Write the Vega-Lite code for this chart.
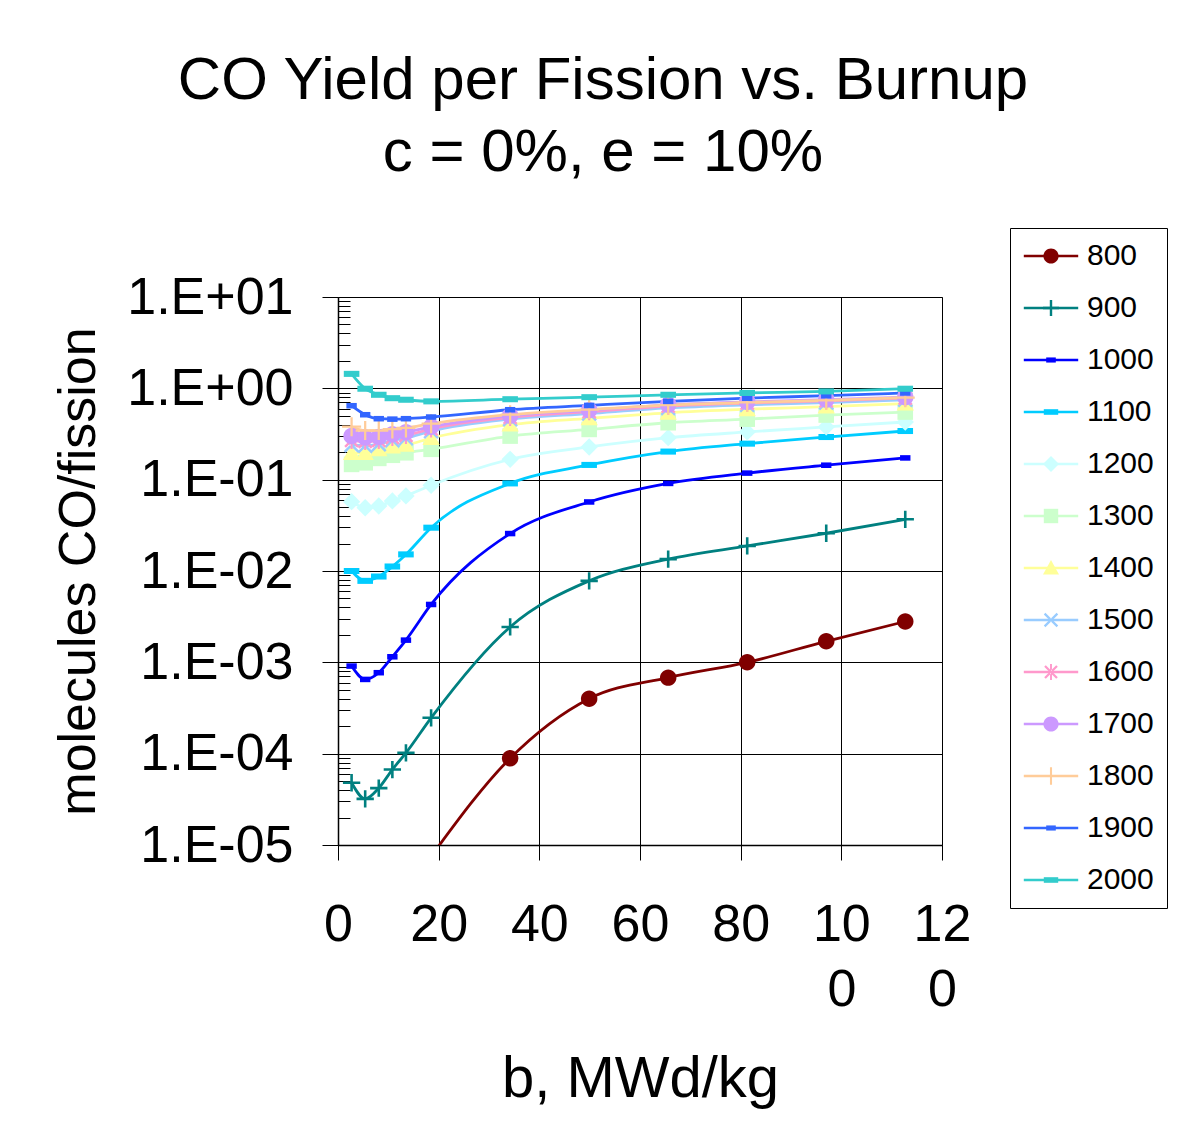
{
  "$schema": "https://vega.github.io/schema/vega-lite/v6.json",
  "width": 604,
  "height": 548,
  "autosize": {"type": "none"},
  "padding": {"left": 338, "top": 297, "right": 250, "bottom": 296},
  "background": "white",
  "config": {
    "font": "Liberation Sans",
    "view": {"stroke": "#808080", "strokeWidth": 1},
    "legend": {"strokeWidth": 1}
  },
  "title": {
    "text": ["CO Yield per Fission vs. Burnup", "c = 0%, e = 10%"],
    "font": "Liberation Sans",
    "fontSize": 60,
    "fontWeight": "normal",
    "color": "#000000",
    "lineHeight": 72,
    "anchor": "middle",
    "dx": -37,
    "offset": 44
  },
  "data": {
    "values": [
      {"temp": "800", "burnup": 18.5, "yield": 0.0000075},
      {"temp": "800", "burnup": 34.2, "yield": 0.000089},
      {"temp": "800", "burnup": 49.9, "yield": 0.0004},
      {"temp": "800", "burnup": 65.6, "yield": 0.00068},
      {"temp": "800", "burnup": 81.3, "yield": 0.001},
      {"temp": "800", "burnup": 97.0, "yield": 0.0017},
      {"temp": "800", "burnup": 112.7, "yield": 0.0028},

      {"temp": "900", "burnup": 2.7, "yield": 0.000048},
      {"temp": "900", "burnup": 5.4, "yield": 0.000032},
      {"temp": "900", "burnup": 8.1, "yield": 0.000042},
      {"temp": "900", "burnup": 10.8, "yield": 0.000067},
      {"temp": "900", "burnup": 13.5, "yield": 0.000102},
      {"temp": "900", "burnup": 18.5, "yield": 0.000247},
      {"temp": "900", "burnup": 34.2, "yield": 0.00244},
      {"temp": "900", "burnup": 49.9, "yield": 0.0078},
      {"temp": "900", "burnup": 65.6, "yield": 0.0135},
      {"temp": "900", "burnup": 81.3, "yield": 0.0188},
      {"temp": "900", "burnup": 97.0, "yield": 0.0259},
      {"temp": "900", "burnup": 112.7, "yield": 0.0368},

      {"temp": "1000", "burnup": 2.7, "yield": 0.00091},
      {"temp": "1000", "burnup": 5.4, "yield": 0.00065},
      {"temp": "1000", "burnup": 8.1, "yield": 0.00077},
      {"temp": "1000", "burnup": 10.8, "yield": 0.00115},
      {"temp": "1000", "burnup": 13.5, "yield": 0.00175},
      {"temp": "1000", "burnup": 18.5, "yield": 0.0043},
      {"temp": "1000", "burnup": 34.2, "yield": 0.0257},
      {"temp": "1000", "burnup": 49.9, "yield": 0.057},
      {"temp": "1000", "burnup": 65.6, "yield": 0.091},
      {"temp": "1000", "burnup": 81.3, "yield": 0.118},
      {"temp": "1000", "burnup": 97.0, "yield": 0.144},
      {"temp": "1000", "burnup": 112.7, "yield": 0.173},

      {"temp": "1100", "burnup": 2.7, "yield": 0.01},
      {"temp": "1100", "burnup": 5.4, "yield": 0.0078},
      {"temp": "1100", "burnup": 8.1, "yield": 0.0087},
      {"temp": "1100", "burnup": 10.8, "yield": 0.0112},
      {"temp": "1100", "burnup": 13.5, "yield": 0.0152},
      {"temp": "1100", "burnup": 18.5, "yield": 0.0298},
      {"temp": "1100", "burnup": 34.2, "yield": 0.091},
      {"temp": "1100", "burnup": 49.9, "yield": 0.145},
      {"temp": "1100", "burnup": 65.6, "yield": 0.203},
      {"temp": "1100", "burnup": 81.3, "yield": 0.248},
      {"temp": "1100", "burnup": 97.0, "yield": 0.293},
      {"temp": "1100", "burnup": 112.7, "yield": 0.341},

      {"temp": "1200", "burnup": 2.7, "yield": 0.0574},
      {"temp": "1200", "burnup": 5.4, "yield": 0.0493},
      {"temp": "1200", "burnup": 8.1, "yield": 0.0515},
      {"temp": "1200", "burnup": 10.8, "yield": 0.0585},
      {"temp": "1200", "burnup": 13.5, "yield": 0.0664},
      {"temp": "1200", "burnup": 18.5, "yield": 0.0869},
      {"temp": "1200", "burnup": 34.2, "yield": 0.167},
      {"temp": "1200", "burnup": 49.9, "yield": 0.228},
      {"temp": "1200", "burnup": 65.6, "yield": 0.288},
      {"temp": "1200", "burnup": 81.3, "yield": 0.333},
      {"temp": "1200", "burnup": 97.0, "yield": 0.378},
      {"temp": "1200", "burnup": 112.7, "yield": 0.428},

      {"temp": "1300", "burnup": 2.7, "yield": 0.147},
      {"temp": "1300", "burnup": 5.4, "yield": 0.153},
      {"temp": "1300", "burnup": 8.1, "yield": 0.171},
      {"temp": "1300", "burnup": 10.8, "yield": 0.185},
      {"temp": "1300", "burnup": 13.5, "yield": 0.197},
      {"temp": "1300", "burnup": 18.5, "yield": 0.215},
      {"temp": "1300", "burnup": 34.2, "yield": 0.30},
      {"temp": "1300", "burnup": 49.9, "yield": 0.355},
      {"temp": "1300", "burnup": 65.6, "yield": 0.42},
      {"temp": "1300", "burnup": 81.3, "yield": 0.46},
      {"temp": "1300", "burnup": 97.0, "yield": 0.51},
      {"temp": "1300", "burnup": 112.7, "yield": 0.55},

      {"temp": "1400", "burnup": 2.7, "yield": 0.195},
      {"temp": "1400", "burnup": 5.4, "yield": 0.195},
      {"temp": "1400", "burnup": 8.1, "yield": 0.215},
      {"temp": "1400", "burnup": 10.8, "yield": 0.23},
      {"temp": "1400", "burnup": 13.5, "yield": 0.24},
      {"temp": "1400", "burnup": 18.5, "yield": 0.285},
      {"temp": "1400", "burnup": 34.2, "yield": 0.40},
      {"temp": "1400", "burnup": 49.9, "yield": 0.47},
      {"temp": "1400", "burnup": 65.6, "yield": 0.54},
      {"temp": "1400", "burnup": 81.3, "yield": 0.59},
      {"temp": "1400", "burnup": 97.0, "yield": 0.63},
      {"temp": "1400", "burnup": 112.7, "yield": 0.68},

      {"temp": "1500", "burnup": 2.7, "yield": 0.24},
      {"temp": "1500", "burnup": 5.4, "yield": 0.235},
      {"temp": "1500", "burnup": 8.1, "yield": 0.245},
      {"temp": "1500", "burnup": 10.8, "yield": 0.27},
      {"temp": "1500", "burnup": 13.5, "yield": 0.285},
      {"temp": "1500", "burnup": 18.5, "yield": 0.34},
      {"temp": "1500", "burnup": 34.2, "yield": 0.46},
      {"temp": "1500", "burnup": 49.9, "yield": 0.53},
      {"temp": "1500", "burnup": 65.6, "yield": 0.61},
      {"temp": "1500", "burnup": 81.3, "yield": 0.66},
      {"temp": "1500", "burnup": 97.0, "yield": 0.70},
      {"temp": "1500", "burnup": 112.7, "yield": 0.75},

      {"temp": "1600", "burnup": 2.7, "yield": 0.27},
      {"temp": "1600", "burnup": 5.4, "yield": 0.262},
      {"temp": "1600", "burnup": 8.1, "yield": 0.27},
      {"temp": "1600", "burnup": 10.8, "yield": 0.29},
      {"temp": "1600", "burnup": 13.5, "yield": 0.305},
      {"temp": "1600", "burnup": 18.5, "yield": 0.36},
      {"temp": "1600", "burnup": 34.2, "yield": 0.48},
      {"temp": "1600", "burnup": 49.9, "yield": 0.555},
      {"temp": "1600", "burnup": 65.6, "yield": 0.64},
      {"temp": "1600", "burnup": 81.3, "yield": 0.69},
      {"temp": "1600", "burnup": 97.0, "yield": 0.73},
      {"temp": "1600", "burnup": 112.7, "yield": 0.78},

      {"temp": "1700", "burnup": 2.7, "yield": 0.30},
      {"temp": "1700", "burnup": 5.4, "yield": 0.29},
      {"temp": "1700", "burnup": 8.1, "yield": 0.293},
      {"temp": "1700", "burnup": 10.8, "yield": 0.315},
      {"temp": "1700", "burnup": 13.5, "yield": 0.33},
      {"temp": "1700", "burnup": 18.5, "yield": 0.38},
      {"temp": "1700", "burnup": 34.2, "yield": 0.50},
      {"temp": "1700", "burnup": 49.9, "yield": 0.575},
      {"temp": "1700", "burnup": 65.6, "yield": 0.66},
      {"temp": "1700", "burnup": 81.3, "yield": 0.71},
      {"temp": "1700", "burnup": 97.0, "yield": 0.75},
      {"temp": "1700", "burnup": 112.7, "yield": 0.80},

      {"temp": "1800", "burnup": 2.7, "yield": 0.38},
      {"temp": "1800", "burnup": 5.4, "yield": 0.345},
      {"temp": "1800", "burnup": 8.1, "yield": 0.345},
      {"temp": "1800", "burnup": 10.8, "yield": 0.358},
      {"temp": "1800", "burnup": 13.5, "yield": 0.368},
      {"temp": "1800", "burnup": 18.5, "yield": 0.41},
      {"temp": "1800", "burnup": 34.2, "yield": 0.515},
      {"temp": "1800", "burnup": 49.9, "yield": 0.585},
      {"temp": "1800", "burnup": 65.6, "yield": 0.655},
      {"temp": "1800", "burnup": 81.3, "yield": 0.70},
      {"temp": "1800", "burnup": 97.0, "yield": 0.74},
      {"temp": "1800", "burnup": 112.7, "yield": 0.79},

      {"temp": "1900", "burnup": 2.7, "yield": 0.645},
      {"temp": "1900", "burnup": 5.4, "yield": 0.514},
      {"temp": "1900", "burnup": 8.1, "yield": 0.465},
      {"temp": "1900", "burnup": 10.8, "yield": 0.46},
      {"temp": "1900", "burnup": 13.5, "yield": 0.465},
      {"temp": "1900", "burnup": 18.5, "yield": 0.485},
      {"temp": "1900", "burnup": 34.2, "yield": 0.583},
      {"temp": "1900", "burnup": 49.9, "yield": 0.65},
      {"temp": "1900", "burnup": 65.6, "yield": 0.72},
      {"temp": "1900", "burnup": 81.3, "yield": 0.78},
      {"temp": "1900", "burnup": 97.0, "yield": 0.83},
      {"temp": "1900", "burnup": 112.7, "yield": 0.89},

      {"temp": "2000", "burnup": 2.7, "yield": 1.44},
      {"temp": "2000", "burnup": 5.4, "yield": 0.99},
      {"temp": "2000", "burnup": 8.1, "yield": 0.85},
      {"temp": "2000", "burnup": 10.8, "yield": 0.78},
      {"temp": "2000", "burnup": 13.5, "yield": 0.75},
      {"temp": "2000", "burnup": 18.5, "yield": 0.72},
      {"temp": "2000", "burnup": 34.2, "yield": 0.76},
      {"temp": "2000", "burnup": 49.9, "yield": 0.80},
      {"temp": "2000", "burnup": 65.6, "yield": 0.85},
      {"temp": "2000", "burnup": 81.3, "yield": 0.89},
      {"temp": "2000", "burnup": 97.0, "yield": 0.925},
      {"temp": "2000", "burnup": 112.7, "yield": 0.99}
    ]
  },
  "encoding": {
    "x": {
      "field": "burnup",
      "type": "quantitative",
      "scale": {"domain": [0, 120], "nice": false, "zero": false},
      "axis": {
        "values": [0, 20, 40, 60, 80, 100, 120],
        "labelExpr": "datum.value >= 100 ? [substring(datum.label, 0, 2), substring(datum.label, 2)] : datum.label",
        "labelFontSize": 52,
        "labelFont": "Liberation Sans",
        "labelColor": "#000000",
        "labelLineHeight": 65,
        "labelPadding": 39,
        "labelFlush": false,
        "labelOverlap": false,
        "tickSize": 15,
        "tickColor": "#000000",
        "tickWidth": 1,
        "domainColor": "#000000",
        "domainWidth": 1.5,
        "grid": true,
        "gridColor": "#000000",
        "gridOpacity": 1,
        "gridWidth": 1,
        "title": "b, MWd/kg",
        "titleFont": "Liberation Sans",
        "titleFontSize": 58,
        "titleFontWeight": "normal",
        "titleColor": "#000000",
        "titlePadding": 35
      }
    },
    "y": {
      "field": "yield",
      "type": "quantitative",
      "scale": {"type": "log", "domain": [0.00001, 10], "nice": false},
      "axis": {
        "values": [0.00001, 0.00002, 0.00003, 0.00004, 0.00005, 0.00006, 0.00007, 0.00008, 0.00009,
                   0.0001, 0.0002, 0.0003, 0.0004, 0.0005, 0.0006, 0.0007, 0.0008, 0.0009,
                   0.001, 0.002, 0.003, 0.004, 0.005, 0.006, 0.007, 0.008, 0.009,
                   0.01, 0.02, 0.03, 0.04, 0.05, 0.06, 0.07, 0.08, 0.09,
                   0.1, 0.2, 0.3, 0.4, 0.5, 0.6, 0.7, 0.8, 0.9,
                   1, 2, 3, 4, 5, 6, 7, 8, 9, 10],
        "labelExpr": "abs(log(datum.value)/LN10 - round(log(datum.value)/LN10)) > 0.001 ? '' : (round(log(datum.value)/LN10) >= 0 ? '1.E+0' + round(log(datum.value)/LN10) : '1.E-0' + (-round(log(datum.value)/LN10)))",
        "labelFontSize": 52,
        "labelFont": "Liberation Sans",
        "labelColor": "#000000",
        "labelPadding": 29,
        "labelFlush": false,
        "labelOverlap": false,
        "tickSize": {"condition": {"test": "abs(log(datum.value)/LN10 - round(log(datum.value)/LN10)) > 0.001", "value": -12}, "value": 16},
        "tickColor": "#000000",
        "tickWidth": 1,
        "domainColor": "#000000",
        "domainWidth": 1.5,
        "grid": true,
        "gridColor": "#000000",
        "gridWidth": 1,
        "gridOpacity": {"condition": {"test": "abs(log(datum.value)/LN10 - round(log(datum.value)/LN10)) > 0.001", "value": 0}, "value": 1},
        "title": "molecules CO/fission",
        "titleFont": "Liberation Sans",
        "titleFontSize": 52,
        "titleFontWeight": "normal",
        "titleColor": "#000000",
        "titlePadding": 33
      }
    }
  },
  "layer": [
    {
      "mark": {"type": "line", "interpolate": "monotone", "strokeWidth": 2.8, "clip": true},
      "encoding": {
        "stroke": {
          "field": "temp",
          "type": "nominal",
          "scale": {
            "domain": ["800", "900", "1000", "1100", "1200", "1300", "1400", "1500", "1600", "1700", "1800", "1900", "2000"],
            "range": ["#800000", "#008080", "#0000FF", "#00CCFF", "#CCFFFF", "#CCFFCC", "#FFFF99", "#99CCFF", "#FF99CC", "#CC99FF", "#FFCC99", "#3366FF", "#33CCCC"]
          },
          "legend": {
            "title": null,
            "orient": "none",
            "direction": "vertical",
            "legendX": 672,
            "legendY": -69,
            "padding": 13,
            "strokeColor": "#000000",
            "symbolOffset": 13,
            "labelOffset": 21,
            "rowPadding": 22,
            "labelFontSize": 30,
            "labelFont": "Liberation Sans",
            "labelColor": "#000000",
            "symbolType": "M-3.4,0L3.4,0",
            "symbolSize": 256,
            "symbolStrokeWidth": 2.5
          }
        }
      }
    },
    {
      "mark": {"type": "point", "filled": true, "size": 300, "strokeWidth": 0, "opacity": 1, "clip": true},
      "encoding": {
        "fill": {
          "field": "temp",
          "type": "nominal",
          "scale": {
            "domain": ["800", "900", "1000", "1100", "1200", "1300", "1400", "1500", "1600", "1700", "1800", "1900", "2000", " "],
            "range": ["#800000", "#008080", "#0000FF", "#00CCFF", "#CCFFFF", "#CCFFCC", "#FFFF99", "#99CCFF", "#FF99CC", "#CC99FF", "#FFCC99", "#3366FF", "#33CCCC", "transparent"]
          },
          "legend": {
            "title": null,
            "orient": "none",
            "direction": "vertical",
            "legendX": 672,
            "legendY": -69,
            "padding": 13,
            "strokeColor": null,
            "symbolOffset": 13,
            "labelOffset": 21,
            "rowPadding": 22,
            "labelFontSize": 30,
            "labelFont": "Liberation Sans",
            "labelOpacity": 0,
            "symbolSize": 256,
            "symbolStrokeWidth": 2.5,
            "symbolStrokeColor": "transparent",
            "symbolOpacity": 1
          }
        },
        "shape": {
          "field": "temp",
          "type": "nominal",
          "scale": {
            "domain": ["800", "900", "1000", "1100", "1200", "1300", "1400", "1500", "1600", "1700", "1800", "1900", "2000", " "],
            "range": [
              "M-0.95,0A0.95,0.95,0,1,1,0.95,0A0.95,0.95,0,1,1,-0.95,0Z",
              "M-1,-0.15L1,-0.15L1,0.15L-1,0.15ZM-0.15,-1L0.15,-1L0.15,1L-0.15,1Z",
              "M-0.6,-0.32L0.6,-0.32L0.6,0.32L-0.6,0.32Z",
              "M-0.9,-0.35L0.9,-0.35L0.9,0.35L-0.9,0.35Z",
              "M0,-1L1,0L0,1L-1,0Z",
              "M-0.9,-0.9L0.9,-0.9L0.9,0.9L-0.9,0.9Z",
              "M0,-1L1,0.8L-1,0.8Z",
              "M-0.9,-0.7L-0.7,-0.9L0.9,0.7L0.7,0.9ZM-0.9,0.7L-0.7,0.9L0.9,-0.7L0.7,-0.9Z",
              "M-0.85,-0.65L-0.65,-0.85L0.85,0.65L0.65,0.85ZM-0.85,0.65L-0.65,0.85L0.85,-0.65L0.65,-0.85ZM-0.12,-1L0.12,-1L0.12,1L-0.12,1Z",
              "M-0.95,0A0.95,0.95,0,1,1,0.95,0A0.95,0.95,0,1,1,-0.95,0Z",
              "M-1.1,-0.13L1.1,-0.13L1.1,0.13L-1.1,0.13ZM-0.13,-1.1L0.13,-1.1L0.13,1.1L-0.13,1.1Z",
              "M-0.6,-0.32L0.6,-0.32L0.6,0.32L-0.6,0.32Z",
              "M-0.9,-0.35L0.9,-0.35L0.9,0.35L-0.9,0.35Z",
              "M0,0L0,0Z"
            ]
          },
          "legend": {
            "title": null,
            "orient": "none",
            "direction": "vertical",
            "legendX": 672,
            "legendY": -69,
            "padding": 13,
            "strokeColor": null,
            "symbolOffset": 13,
            "labelOffset": 21,
            "rowPadding": 22,
            "labelFontSize": 30,
            "labelFont": "Liberation Sans",
            "labelOpacity": 0,
            "symbolSize": 256,
            "symbolStrokeWidth": 2.5,
            "symbolStrokeColor": "transparent",
            "symbolOpacity": 1
          }
        }
      }
    }
  ]
}
